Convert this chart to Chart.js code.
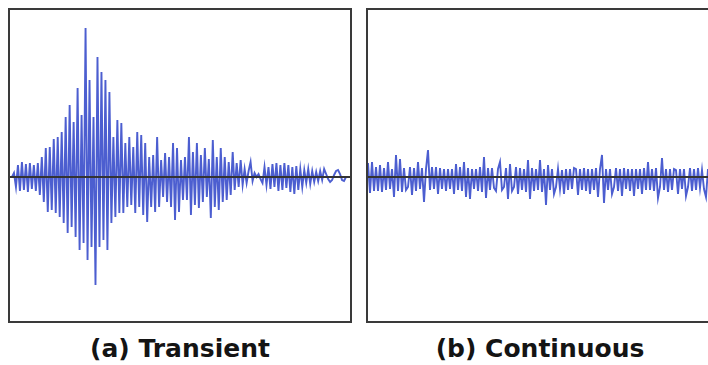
<!DOCTYPE html>
<html>
<head>
<meta charset="utf-8">
<script src="https://cdn.jsdelivr.net/npm/chart.js@4.4.1/dist/chart.umd.min.js"></script>
<style>
  html, body { margin: 0; padding: 0; background: #fff; width: 708px; height: 365px; overflow: hidden; }
  .panel { position: absolute; top: 8px; border: 2px solid #3a3a3a; background: #fff; }
  #boxA { left: 8px; width: 340px; height: 311px; }
  #boxB { left: 366px; width: 350px; height: 311px; }
  .panel canvas { display: block; }
  .caption { position: absolute; top: 334px; width: 360px; line-height: 30px; text-align: center;
             font: bold 25px "DejaVu Sans", sans-serif; color: #141414; }
</style>
</head>
<body>
<div class="panel" id="boxA"><canvas id="chartA" width="340" height="311"></canvas></div>
<div class="panel" id="boxB"><canvas id="chartB" width="350" height="311"></canvas></div>
<div class="caption" id="capA" style="left:0px"></div>
<div class="caption" id="capB" style="left:360px"></div>
<script>
// Acoustic emission waveforms, amplitude per sample (arbitrary units, 0 = baseline)
const transientSamples = [
  0, 0, 4, -10, 12, -14, 15, -13, 13, -15,
  14, -12, 12, -14, 14, -18, 20, -25, 29, -35,
  30, -33, 38, -36, 40, -40, 45, -46, 60, -56,
  72, -50, 55, -60, 89, -73, 62, -66, 149, -83,
  97, -70, 60, -108, 120, -70, 105, -63, 97, -73,
  85, -46, 40, -40, 57, -36, 54, -36, 34, -30,
  40, -28, 30, -36, 45, -30, 42, -38, 34, -45,
  20, -30, 22, -35, 40, -30, 17, -20, 24, -25,
  20, -30, 34, -43, 29, -35, 17, -23, 20, -23,
  40, -38, 25, -28, 34, -31, 22, -25, 29, -20,
  18, -41, 37, -30, 20, -33, 29, -25, 20, -23,
  15, -18, 25, -13, 14, -10, 17, -8, 8, -6,
  6, 15, -4, 4, 0, 3, -2, -6, 10, -8,
  10, -12, 13, -10, 14, -14, 12, -13, 14, -11,
  12, -15, 10, -17, 11, -13, 8, -10, 7, -6,
  8, -7, 6, -5, 5, -4, 6, -3, 8, 3,
  -2, -5, -3, 2, 6, 7, 3, -3, -4, 0,
  0, 0
];

const continuousSamples = [
  14, -16, 15, -14, 10, -14, 12, -15, 9, -13,
  15, -12, 8, -20, 22, -14, 18, -15, 9, -13,
  -10, 10, -18, 9, -14, 15, -12, 9, -25, 8,
  27, -13, 10, -12, 10, -17, 9, -12, 8, -14,
  8, -12, 8, -17, 13, -13, 10, -14, 15, -20,
  9, -22, 8, -12, 8, -14, 10, -15, 20, -21,
  9, -13, 9, -11, -14, 8, 15, -13, -10, 9,
  -22, 13, -14, -10, 10, -17, 9, -13, 8, -15,
  17, -22, 9, -14, 8, -13, 17, -15, 8, -28,
  12, -13, 8, -17, -10, 8, -12, 7, -17, 8,
  -13, 8, -12, 9, 8, -18, 8, -13, 9, -14,
  8, -17, 8, -13, 9, -20, 8, 22, -26, 8,
  -13, 8, -17, -10, 9, -14, 8, -19, 9, -12,
  8, -14, 8, -19, 8, -12, 8, -17, 9, -13,
  15, -13, 8, -14, 9, -21, -10, 19, -13, 8,
  -15, 8, -13, 8, 7, -17, 8, -12, 8, -19,
  -10, 9, -14, 8, -13, 9, -11, 7, -12, -20,
  8, -12, 8
];

const panelTitles = ['(a) Transient', '(b) Continuous'];

const WAVE_COLOR = '#4c5ed0';
const BASE_COLOR = '#333333';

// Dark zero line drawn over the waveform
const zeroLine = {
  id: 'zeroLine',
  afterDatasetsDraw(chart) {
    const { ctx, chartArea: a, scales: { y } } = chart;
    const py = Math.round(y.getPixelForValue(0));
    ctx.save();
    ctx.strokeStyle = BASE_COLOR;
    ctx.lineWidth = 2;
    ctx.beginPath();
    ctx.moveTo(a.left, py);
    ctx.lineTo(a.right, py);
    ctx.stroke();
    ctx.restore();
  }
};

function waveChart(canvasId, samples, xMax) {
  const points = samples.map((v, i) => ({ x: i, y: v }));
  return new Chart(document.getElementById(canvasId), {
    type: 'line',
    data: {
      datasets: [{
        data: points,
        borderColor: WAVE_COLOR,
        borderWidth: 1.9,
        pointRadius: 0,
        tension: 0,
        fill: false
      }]
    },
    options: {
      responsive: false,
      animation: false,
      devicePixelRatio: 1,
      layout: { padding: 0 },
      plugins: { legend: { display: false }, tooltip: { enabled: false } },
      scales: {
        x: { type: 'linear', display: false, min: 0, max: xMax },
        y: { display: false, min: -144, max: 167 }
      }
    },
    plugins: [zeroLine]
  });
}

waveChart('chartA', transientSamples, 171);
waveChart('chartB', continuousSamples, 175);

document.getElementById('capA').textContent = panelTitles[0];
document.getElementById('capB').textContent = panelTitles[1];
</script>
</body>
</html>
